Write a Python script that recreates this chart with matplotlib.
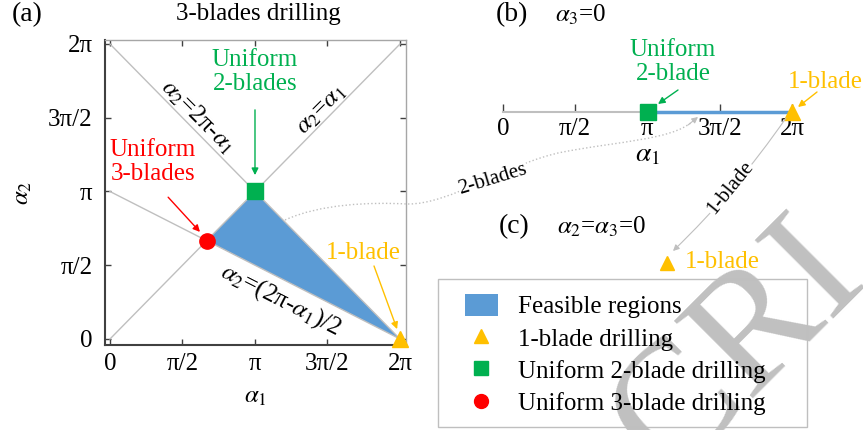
import numpy as np
import matplotlib.pyplot as plt
from matplotlib.patches import Patch, PathPatch, Rectangle
from matplotlib.path import Path
from matplotlib.lines import Line2D

plt.rcParams['font.family'] = ['Liberation Serif', 'DejaVu Serif']
plt.rcParams['mathtext.fontset'] = 'stix'

PI = np.pi

# ticks shared by panels (a) and (b)
tick_vals = [0, PI / 2, PI, 3 * PI / 2, 2 * PI]
tick_labels = ['0', 'π/2', 'π', '3π/2', '2π']

# boundary lines in the (alpha1, alpha2) plane
line_a1 = [0, 2 * PI]
line_equal = [0, 2 * PI]        # a2 = a1
line_minus = [2 * PI, 0]        # a2 = 2pi - a1
line_half = [PI, 0]             # a2 = (2pi - a1)/2

# feasible region (triangle)
region_a1 = [2 * PI / 3, PI, 2 * PI]
region_a2 = [2 * PI / 3, PI, 0]

# special points
one_blade = (2 * PI, 0)
uniform2 = (PI, PI)
uniform3 = (2 * PI / 3, 2 * PI / 3)

# panel (b): alpha3 = 0
b_infeasible = [0, PI]
b_feasible = [PI, 2 * PI]

BLUE = '#5B9BD5'
GREEN = '#00B050'
RED = '#FF0000'
YELLOW = '#FFC000'
LGRAY = '#BFBFBF'
DGRAY = '#404040'

W, H = 863, 430
fig = plt.figure(figsize=(W / 100, H / 100), dpi=100)


def px_box(x0, y0, x1, y1):
    # pixel box (top-left origin) -> figure fraction
    return [x0 / W, 1 - y1 / H, (x1 - x0) / W, (y1 - y0) / H]


# ---------------- panel (a) ----------------
ax = fig.add_axes(px_box(105, 40, 406, 345))
ax.fill(region_a1, region_a2, color=BLUE, lw=0, zorder=1)
ax.plot(line_a1, line_equal, color=LGRAY, lw=1, zorder=2)
ax.plot(line_a1, line_minus, color=LGRAY, lw=1, zorder=2)
ax.plot(line_a1, line_half, color=LGRAY, lw=1, zorder=2)
ax.plot(*uniform2, 's', color=GREEN, ms=11, zorder=5)
ax.plot(*uniform3, 'o', color=RED, ms=11, zorder=5)
ax.plot(*one_blade, '^', color=YELLOW, ms=11, zorder=5, clip_on=False)

ax.set_xlim(-0.108, 2 * PI + 0.13)
ax.set_ylim(-0.128, 2 * PI + 0.085)
ax.set_xticks(tick_vals, tick_labels)
ax.set_yticks(tick_vals, tick_labels)
ax.tick_params(direction='in', length=4, width=1, top=True, right=True,
               labelsize=18, color=DGRAY)
ax.tick_params(axis='y', pad=9)
ax.tick_params(axis='x', pad=6)
for s in ['left', 'bottom']:
    ax.spines[s].set_color(DGRAY)
    ax.spines[s].set_linewidth(1.5)
for s in ['top', 'right']:
    ax.spines[s].set_color('#A6A6A6')
    ax.spines[s].set_linewidth(1)
ax.set_xlabel(r'$\alpha_1$', fontsize=18, labelpad=8)
ax.set_ylabel(r'$\alpha_2$', fontsize=18, labelpad=10)

# line labels
ax.text(1.91, 4.73, r'$\alpha_2$=2π-$\alpha_1$', rotation=-45, fontsize=18,
        ha='center', va='center')
ax.text(4.59, 4.88, r'$\alpha_2$=$\alpha_1$', rotation=45, fontsize=18,
        ha='center', va='center')
ax.text(3.70, 0.83, r'$\alpha_2$=(2π-$\alpha_1$)/2', rotation=-27, fontsize=18,
        ha='center', va='center')

arrow = dict(arrowstyle='-|>', lw=1, mutation_scale=10, shrinkA=0, shrinkB=0)
ax.text(PI, 5.69, 'Uniform\n2-blades', color=GREEN, fontsize=18,
        ha='center', va='center', linespacing=1.1)
ax.annotate('', xy=(PI, 3.49), xytext=(PI, 4.88),
            arrowprops=dict(arrow, color=GREEN))
ax.text(0.93, 3.77, 'Uniform\n3-blades', color=RED, fontsize=18,
        ha='center', va='center', linespacing=1.1)
ax.annotate('', xy=(1.95, 2.28), xytext=(1.26, 3.02),
            arrowprops=dict(arrow, color=RED))
ax.text(5.48, 1.83, '1-blade', color=YELLOW, fontsize=18,
        ha='center', va='center')
ax.annotate('', xy=(6.22, 0.21), xytext=(5.72, 1.555),
            arrowprops=dict(arrow, color=YELLOW))

fig.text(27 / W, 1 - 15 / H, '(a)', fontsize=20, ha='center', va='center')
fig.text(258 / W, 1 - 14 / H, '3-blades drilling', fontsize=18,
         ha='center', va='center')

# ---------------- panel (b) ----------------
axb = fig.add_axes(px_box(503, 92, 792, 112))
axb.plot(b_infeasible, [0, 0], color=LGRAY, lw=1.5, clip_on=False)
axb.plot(b_feasible, [0, 0], color=BLUE, lw=2.5, clip_on=False)
axb.plot(uniform2[0], 0, 's', color=GREEN, ms=11, clip_on=False)
axb.plot(one_blade[0], 0, '^', color=YELLOW, ms=11, clip_on=False)
axb.set_xlim(0, 2 * PI)
axb.set_ylim(0, 1)
axb.set_xticks(tick_vals, tick_labels)
axb.set_yticks([])
axb.tick_params(axis='x', direction='in', length=6, width=1, color=DGRAY,
                labelsize=18, pad=4)
for s in axb.spines.values():
    s.set_visible(False)
axb.patch.set_visible(False)
axb.set_xlabel(r'$\alpha_1$', fontsize=20, labelpad=2)

# ---------------- overlay in pixel coordinates ----------------
ov = fig.add_axes([0, 0, 1, 1], zorder=3)
ov.set_xlim(0, W)
ov.set_ylim(H, 0)
ov.axis('off')

ov.text(512, 15, '(b)', fontsize=20, ha='center', va='center')
ov.text(581, 15, r'$\alpha_3$=0', fontsize=18, ha='center', va='center')
ov.text(673, 62, 'Uniform\n2-blade', color=GREEN, fontsize=18,
        ha='center', va='center', linespacing=1.1)
ov.annotate('', xy=(658, 104), xytext=(678, 90),
            arrowprops=dict(arrow, color=GREEN))
ov.text(788, 82, '1-blade', color=YELLOW, fontsize=18, ha='left', va='center')
ov.annotate('', xy=(798, 107), xytext=(817, 92),
            arrowprops=dict(arrow, color=YELLOW))

ov.text(514, 227, '(c)', fontsize=20, ha='center', va='center')
ov.text(602, 227, r'$\alpha_2$=$\alpha_3$=0', fontsize=18,
        ha='center', va='center')
ov.plot(667, 263, '^', color=YELLOW, ms=10)
ov.text(685, 262, '1-blade', color=YELLOW, fontsize=18, ha='left', va='center')

# connector (a) -> (b)
verts = [(285, 220), (320, 204), (370, 202), (407, 204),
         (450, 205), (510, 162), (563, 152),
         (620, 141), (670, 140), (692, 122)]
codes = [Path.MOVETO] + [Path.CURVE4] * 9
ov.add_patch(PathPatch(Path(verts, codes), fc='none', ec=LGRAY, lw=1,
                       ls=':', zorder=2))
ov.annotate('', xy=(698, 117), xytext=(688, 125),
            arrowprops=dict(arrowstyle='-|>', color=LGRAY, lw=0.8,
                            mutation_scale=9, shrinkA=0, shrinkB=0))
ov.text(493, 179, '2-blades', rotation=17, fontsize=15, ha='center',
        va='center', bbox=dict(fc='white', ec='none', pad=0.5))

# connector (b) -> (c)
ov.annotate('', xy=(673, 251), xytext=(786, 118),
            arrowprops=dict(arrowstyle='-|>', color=LGRAY, lw=0.8,
                            mutation_scale=9, shrinkA=0, shrinkB=0,
                            connectionstyle='arc3,rad=-0.05'))
ov.text(730, 188, '1-blade', rotation=51, fontsize=15, ha='center',
        va='center', bbox=dict(fc='white', ec='none', pad=0.5))

# watermark
ov.text(668, 478, 'CRI', rotation=45, rotation_mode='anchor', ha='left',
        va='baseline', fontsize=122, color='#C0C0C0', zorder=0, clip_on=False)

# legend frame + legend
ov.add_patch(Rectangle((438, 279), 369, 148, fc='none', ec=LGRAY, lw=1))
handles = [Patch(fc=BLUE, ec='none'),
           Line2D([], [], ls='none', marker='^', color=YELLOW, ms=10),
           Line2D([], [], ls='none', marker='s', color=GREEN, ms=10),
           Line2D([], [], ls='none', marker='o', color=RED, ms=10)]
labels = ['Feasible regions', '1-blade drilling', 'Uniform 2-blade drilling',
          'Uniform 3-blade drilling']
fig.legend(handles, labels, loc='upper left',
           bbox_to_anchor=(465 / W, 1 - 294 / H), frameon=False,
           fontsize=18, borderpad=0, borderaxespad=0, handlelength=1.3,
           handleheight=0.95, handletextpad=0.84, labelspacing=0.32)

fig.savefig('out.png', dpi=100)
